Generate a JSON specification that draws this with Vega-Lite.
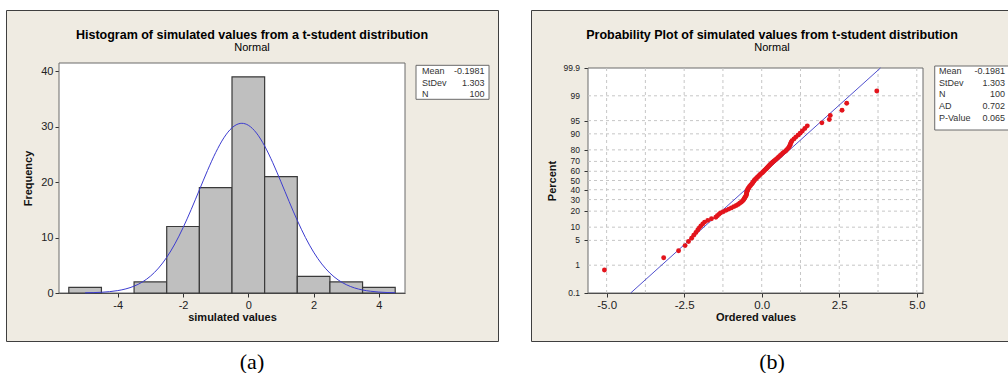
{
  "$schema": "https://vega.github.io/schema/vega-lite/v6.json",
  "background": "#FFFFFF",
  "padding": {"left": 5, "top": 9, "right": 0, "bottom": 0},
  "spacing": 31,
  "datasets": {
    "hist": [
      {"start": -5.5, "end": -4.5, "count": 1},
      {"start": -3.5, "end": -2.5, "count": 2},
      {"start": -2.5, "end": -1.5, "count": 12},
      {"start": -1.5, "end": -0.5, "count": 19},
      {"start": -0.5, "end": 0.5, "count": 39},
      {"start": 0.5, "end": 1.5, "count": 21},
      {"start": 1.5, "end": 2.5, "count": 3},
      {"start": 2.5, "end": 3.5, "count": 2},
      {"start": 3.5, "end": 4.5, "count": 1}
    ],
    "curve": [
      {"x": -5, "f": 0.034}, {"x": -4.75, "f": 0.069}, {"x": -4.5, "f": 0.132}, {"x": -4.25, "f": 0.243},
      {"x": -4, "f": 0.434}, {"x": -3.75, "f": 0.746}, {"x": -3.5, "f": 1.235}, {"x": -3.25, "f": 1.971},
      {"x": -3, "f": 3.033}, {"x": -2.75, "f": 4.499}, {"x": -2.5, "f": 6.431}, {"x": -2.25, "f": 8.861},
      {"x": -2, "f": 11.769}, {"x": -1.75, "f": 15.065}, {"x": -1.5, "f": 18.588}, {"x": -1.25, "f": 22.105},
      {"x": -1, "f": 25.337}, {"x": -0.75, "f": 27.993}, {"x": -0.5, "f": 29.809}, {"x": -0.25, "f": 30.596},
      {"x": -0.198, "f": 30.62}, {"x": 0, "f": 30.268}, {"x": 0.25, "f": 28.862}, {"x": 0.5, "f": 26.526},
      {"x": 0.75, "f": 23.499}, {"x": 1, "f": 20.063}, {"x": 1.25, "f": 16.512}, {"x": 1.5, "f": 13.098},
      {"x": 1.75, "f": 10.014}, {"x": 2, "f": 7.379}, {"x": 2.25, "f": 5.242}, {"x": 2.5, "f": 3.588},
      {"x": 2.75, "f": 2.368}, {"x": 3, "f": 1.506}, {"x": 3.25, "f": 0.923}, {"x": 3.5, "f": 0.545},
      {"x": 3.75, "f": 0.311}, {"x": 4, "f": 0.171}, {"x": 4.25, "f": 0.09}, {"x": 4.5, "f": 0.046}
    ],
    "statsA": [
      {"stat": "Mean", "value": "-0.1981"},
      {"stat": "StDev", "value": "1.303"},
      {"stat": "N", "value": "100"}
    ],
    "statsB": [
      {"stat": "Mean", "value": "-0.1981"},
      {"stat": "StDev", "value": "1.303"},
      {"stat": "N", "value": "100"},
      {"stat": "AD", "value": "0.702"},
      {"stat": "P-Value", "value": "0.065"}
    ],
    "gridx": [{"v": -5}, {"v": -3.75}, {"v": -2.5}, {"v": -1.25}, {"v": 0}, {"v": 1.25}, {"v": 2.5}, {"v": 3.75}, {"v": 5}],
    "percentTicks": [
      {"z": -3.0902, "pct": "0.1"}, {"z": -2.3263, "pct": "1"}, {"z": -1.6449, "pct": "5"}, {"z": -1.2816, "pct": "10"},
      {"z": -0.8416, "pct": "20"}, {"z": -0.5244, "pct": "30"}, {"z": -0.2533, "pct": "40"}, {"z": 0, "pct": "50"},
      {"z": 0.2533, "pct": "60"}, {"z": 0.5244, "pct": "70"}, {"z": 0.8416, "pct": "80"}, {"z": 1.2816, "pct": "90"},
      {"z": 1.6449, "pct": "95"}, {"z": 2.3263, "pct": "99"}, {"z": 3.0902, "pct": "99.9"}
    ],
    "fitline": [{"x": -4.224, "z": -3.0902}, {"x": 3.828, "z": 3.0902}],
    "probpts": [
      {"value": -5.07, "score": -2.459}, {"value": -3.16, "score": -2.122}, {"value": -2.68, "score": -1.929}, {"value": -2.47, "score": -1.788},
      {"value": -2.36, "score": -1.677}, {"value": -2.26, "score": -1.583}, {"value": -2.19, "score": -1.501}, {"value": -2.12, "score": -1.428},
      {"value": -2.06, "score": -1.361}, {"value": -2.01, "score": -1.301}, {"value": -1.96, "score": -1.245}, {"value": -1.9, "score": -1.192},
      {"value": -1.84, "score": -1.143}, {"value": -1.74, "score": -1.096}, {"value": -1.62, "score": -1.052}, {"value": -1.48, "score": -1.009},
      {"value": -1.43, "score": -0.969}, {"value": -1.38, "score": -0.93}, {"value": -1.33, "score": -0.892}, {"value": -1.24, "score": -0.855},
      {"value": -1.15, "score": -0.82}, {"value": -1.06, "score": -0.785}, {"value": -0.98, "score": -0.752}, {"value": -0.9, "score": -0.719},
      {"value": -0.82, "score": -0.687}, {"value": -0.76, "score": -0.656}, {"value": -0.71, "score": -0.625}, {"value": -0.66, "score": -0.595},
      {"value": -0.62, "score": -0.566}, {"value": -0.59, "score": -0.536}, {"value": -0.57, "score": -0.508}, {"value": -0.55, "score": -0.48},
      {"value": -0.53, "score": -0.452}, {"value": -0.51, "score": -0.424}, {"value": -0.495, "score": -0.397}, {"value": -0.49, "score": -0.37},
      {"value": -0.485, "score": -0.344}, {"value": -0.48, "score": -0.318}, {"value": -0.47, "score": -0.292}, {"value": -0.46, "score": -0.266},
      {"value": -0.45, "score": -0.24}, {"value": -0.43, "score": -0.214}, {"value": -0.41, "score": -0.189}, {"value": -0.39, "score": -0.163},
      {"value": -0.36, "score": -0.138}, {"value": -0.34, "score": -0.113}, {"value": -0.31, "score": -0.088}, {"value": -0.29, "score": -0.062},
      {"value": -0.27, "score": -0.037}, {"value": -0.25, "score": -0.012}, {"value": -0.23, "score": 0.012}, {"value": -0.2, "score": 0.037},
      {"value": -0.17, "score": 0.062}, {"value": -0.14, "score": 0.088}, {"value": -0.11, "score": 0.113}, {"value": -0.08, "score": 0.138},
      {"value": -0.05, "score": 0.163}, {"value": -0.02, "score": 0.189}, {"value": 0.02, "score": 0.214}, {"value": 0.05, "score": 0.24},
      {"value": 0.08, "score": 0.266}, {"value": 0.11, "score": 0.292}, {"value": 0.14, "score": 0.318}, {"value": 0.17, "score": 0.344},
      {"value": 0.2, "score": 0.37}, {"value": 0.23, "score": 0.397}, {"value": 0.26, "score": 0.424}, {"value": 0.29, "score": 0.452},
      {"value": 0.33, "score": 0.48}, {"value": 0.36, "score": 0.508}, {"value": 0.4, "score": 0.536}, {"value": 0.44, "score": 0.566},
      {"value": 0.48, "score": 0.595}, {"value": 0.52, "score": 0.625}, {"value": 0.56, "score": 0.656}, {"value": 0.6, "score": 0.687},
      {"value": 0.64, "score": 0.719}, {"value": 0.68, "score": 0.752}, {"value": 0.73, "score": 0.785}, {"value": 0.78, "score": 0.82},
      {"value": 0.82, "score": 0.855}, {"value": 0.86, "score": 0.892}, {"value": 0.89, "score": 0.93}, {"value": 0.91, "score": 0.969},
      {"value": 0.93, "score": 1.009}, {"value": 0.95, "score": 1.052}, {"value": 0.98, "score": 1.096}, {"value": 1.04, "score": 1.143},
      {"value": 1.1, "score": 1.192}, {"value": 1.17, "score": 1.245}, {"value": 1.24, "score": 1.301}, {"value": 1.31, "score": 1.361},
      {"value": 1.39, "score": 1.428}, {"value": 1.47, "score": 1.501}, {"value": 1.94, "score": 1.583}, {"value": 2.18, "score": 1.677},
      {"value": 2.21, "score": 1.788}, {"value": 2.59, "score": 1.929}, {"value": 2.74, "score": 2.122}, {"value": 3.71, "score": 2.459}
    ]
  },
  "hconcat": [
    {
      "title": {"text": "(a)", "orient": "bottom", "font": "Liberation Serif", "fontSize": 22, "fontWeight": "normal", "baseline": "top", "offset": 10, "anchor": "middle", "color": "#000000"},
      "vconcat": [
        {
          "width": 492,
          "height": 331,
          "view": {"fill": "#EFEBE2", "stroke": "#3F3F3F", "strokeWidth": 1},
          "title": {"text": "Histogram of simulated values from a t-student distribution", "subtitle": "Normal", "font": "Liberation Sans", "fontSize": 12.5, "fontWeight": "bold", "color": "#000000", "subtitleFont": "Liberation Sans", "subtitleFontSize": 11, "subtitleColor": "#000000", "subtitlePadding": 1, "offset": -43, "anchor": "middle"},
          "resolve": {"scale": {"y": "independent"}},
          "layer": [
            {
              "layer": [
                {
                  "data": {"values": [{}]},
                  "mark": {"type": "rect", "fill": "#FFFFFF", "stroke": "#6A6A6A", "strokeWidth": 1},
                  "encoding": {"x": {"datum": -5.8}, "x2": {"datum": 4.8}, "y": {"datum": 0}, "y2": {"datum": 41.5}}
                },
                {
                  "data": {"name": "hist"},
                  "mark": {"type": "rect", "fill": "#BFBFBF", "stroke": "#3A3A3A", "strokeWidth": 1.2},
                  "encoding": {
                    "x": {"field": "start", "type": "quantitative", "scale": {"domain": [-5.8, 4.8], "range": [53, 399], "nice": false, "zero": false},
                      "axis": {"values": [-4, -2, 0, 2, 4], "title": "simulated values", "offset": -48, "titlePadding": 1, "labelOverlap": false, "labelExpr": "replace(datum.label, '\u2212', '-')"}},
                    "x2": {"field": "end"},
                    "y": {"field": "count", "type": "quantitative", "scale": {"domain": [0, 41.5], "range": [283, 53], "nice": false, "zero": false},
                      "axis": {"values": [0, 10, 20, 30, 40], "title": "Frequency", "offset": -53, "titlePadding": 7, "labelOverlap": false}},
                    "y2": {"datum": 0}
                  }
                },
                {
                  "data": {"name": "curve"},
                  "mark": {"type": "line", "color": "#3C3CD0", "strokeWidth": 1, "interpolate": "monotone"},
                  "encoding": {"x": {"field": "x", "type": "quantitative"}, "y": {"field": "f", "type": "quantitative"}}
                },
                {
                  "data": {"values": [{}]},
                  "mark": {"type": "rect", "fill": "#FFFFFF", "stroke": "#6A6A6A", "strokeWidth": 1},
                  "encoding": {"x": {"datum": 5.137}, "x2": {"datum": 7.374}, "y": {"datum": 41.08}, "y2": {"datum": 34.95}}
                }
              ]
            },
            {
              "data": {"name": "statsA"},
              "encoding": {"y": {"field": "stat", "type": "nominal", "sort": null, "scale": {"type": "point", "domain": ["Mean", "StDev", "N"], "range": [61, 84.3], "padding": 0}, "axis": null}},
              "layer": [
                {"mark": {"type": "text", "align": "left", "baseline": "middle", "fontSize": 9, "color": "#333333", "font": "Liberation Sans"},
                  "encoding": {"x": {"datum": 5.321}, "text": {"field": "stat"}}},
                {"mark": {"type": "text", "align": "right", "baseline": "middle", "fontSize": 9, "color": "#333333", "font": "Liberation Sans"},
                  "encoding": {"x": {"datum": 7.236}, "text": {"field": "value"}}}
              ]
            }
          ]
        }
      ]
    },
    {
      "title": {"text": "(b)", "orient": "bottom", "font": "Liberation Serif", "fontSize": 22, "fontWeight": "normal", "baseline": "top", "offset": 10, "anchor": "middle", "color": "#000000"},
      "vconcat": [
        {
          "width": 482,
          "height": 331,
          "view": {"fill": "#EFEBE2", "stroke": "#3F3F3F", "strokeWidth": 1},
          "title": {"text": "Probability Plot of simulated values from t-student distribution", "subtitle": "Normal", "font": "Liberation Sans", "fontSize": 12.5, "fontWeight": "bold", "color": "#000000", "subtitleFont": "Liberation Sans", "subtitleFontSize": 11, "subtitleColor": "#000000", "subtitlePadding": 1, "offset": -43, "anchor": "middle"},
          "resolve": {"scale": {"y": "independent"}},
          "layer": [
            {
              "layer": [
                {
                  "data": {"values": [{}]},
                  "mark": {"type": "rect", "fill": "#FFFFFF", "stroke": "#6A6A6A", "strokeWidth": 1},
                  "encoding": {"x": {"datum": -5.6}, "x2": {"datum": 5.2}, "y": {"datum": -3.0902}, "y2": {"datum": 3.0902}}
                },
                {
                  "data": {"name": "gridx"},
                  "mark": {"type": "rule", "color": "#C6C6C6", "strokeWidth": 1, "strokeDash": [3, 3]},
                  "encoding": {"x": {"field": "v", "type": "quantitative"}, "y": {"datum": -3.0902}, "y2": {"datum": 3.0902}}
                },
                {
                  "data": {"name": "percentTicks"},
                  "transform": [{"filter": "abs(datum.z) < 3"}],
                  "mark": {"type": "rule", "color": "#C6C6C6", "strokeWidth": 1, "strokeDash": [3, 3]},
                  "encoding": {"y": {"field": "z", "type": "quantitative"}, "x": {"datum": -5.6}, "x2": {"datum": 5.2}}
                },
                {
                  "data": {"name": "percentTicks"},
                  "mark": {"type": "text", "align": "right", "baseline": "middle", "dx": -8, "fontSize": 8.5, "color": "#222222", "font": "Liberation Sans"},
                  "encoding": {"y": {"field": "z", "type": "quantitative"}, "x": {"datum": -5.6}, "text": {"field": "pct"}}
                },
                {
                  "data": {"name": "fitline"},
                  "mark": {"type": "line", "color": "#3C3CC8", "strokeWidth": 0.9},
                  "encoding": {"x": {"field": "x", "type": "quantitative"}, "y": {"field": "z", "type": "quantitative"}}
                },
                {
                  "data": {"name": "probpts"},
                  "mark": {"type": "circle", "color": "#E3141C", "size": 24, "opacity": 1},
                  "encoding": {
                    "x": {"field": "value", "type": "quantitative", "scale": {"domain": [-5.6, 5.2], "range": [57, 392], "nice": false, "zero": false},
                      "axis": {"values": [-5, -2.5, 0, 2.5, 5], "format": ".1f", "title": "Ordered values", "offset": -48, "titlePadding": 1, "labelFontSize": 11.5, "labelOverlap": false, "labelExpr": "replace(datum.label, '\u2212', '-')"}},
                    "y": {"field": "score", "type": "quantitative", "scale": {"domain": [-3.0902, 3.0902], "range": [283, 58], "nice": false, "zero": false},
                      "axis": {"values": [-3.0902, -2.3263, -1.6449, -1.2816, -0.8416, -0.5244, -0.2533, 0, 0.2533, 0.5244, 0.8416, 1.2816, 1.6449, 2.3263, 3.0902],
                        "labels": false, "title": "Percent", "offset": -57, "titlePadding": 26}}
                  }
                },
                {
                  "data": {"values": [{}]},
                  "mark": {"type": "rect", "fill": "#FFFFFF", "stroke": "#6A6A6A", "strokeWidth": 1},
                  "encoding": {"x": {"datum": 5.578}, "x2": {"datum": 7.977}, "y": {"datum": 3.145}, "y2": {"datum": 1.387}}
                }
              ]
            },
            {
              "data": {"name": "statsB"},
              "encoding": {"y": {"field": "stat", "type": "nominal", "sort": null, "scale": {"type": "point", "domain": ["Mean", "StDev", "N", "AD", "P-Value"], "range": [61, 107.7], "padding": 0}, "axis": null}},
              "layer": [
                {"mark": {"type": "text", "align": "left", "baseline": "middle", "fontSize": 9, "color": "#333333", "font": "Liberation Sans"},
                  "encoding": {"x": {"datum": 5.717}, "text": {"field": "stat"}}},
                {"mark": {"type": "text", "align": "right", "baseline": "middle", "fontSize": 9, "color": "#333333", "font": "Liberation Sans"},
                  "encoding": {"x": {"datum": 7.848}, "text": {"field": "value"}}}
              ]
            }
          ]
        }
      ]
    }
  ],
  "config": {
    "font": "Liberation Sans",
    "view": {"stroke": null},
    "axis": {
      "labelFont": "Liberation Sans", "titleFont": "Liberation Sans", "labelColor": "#222222", "titleColor": "#111111",
      "domainColor": "#333333", "tickColor": "#333333", "labelFontSize": 11, "titleFontSize": 11, "titleFontWeight": "bold",
      "grid": false, "tickSize": 4, "labelPadding": 2, "zindex": 1, "labelFlush": false, "labelOverlap": false
    }
  }
}
